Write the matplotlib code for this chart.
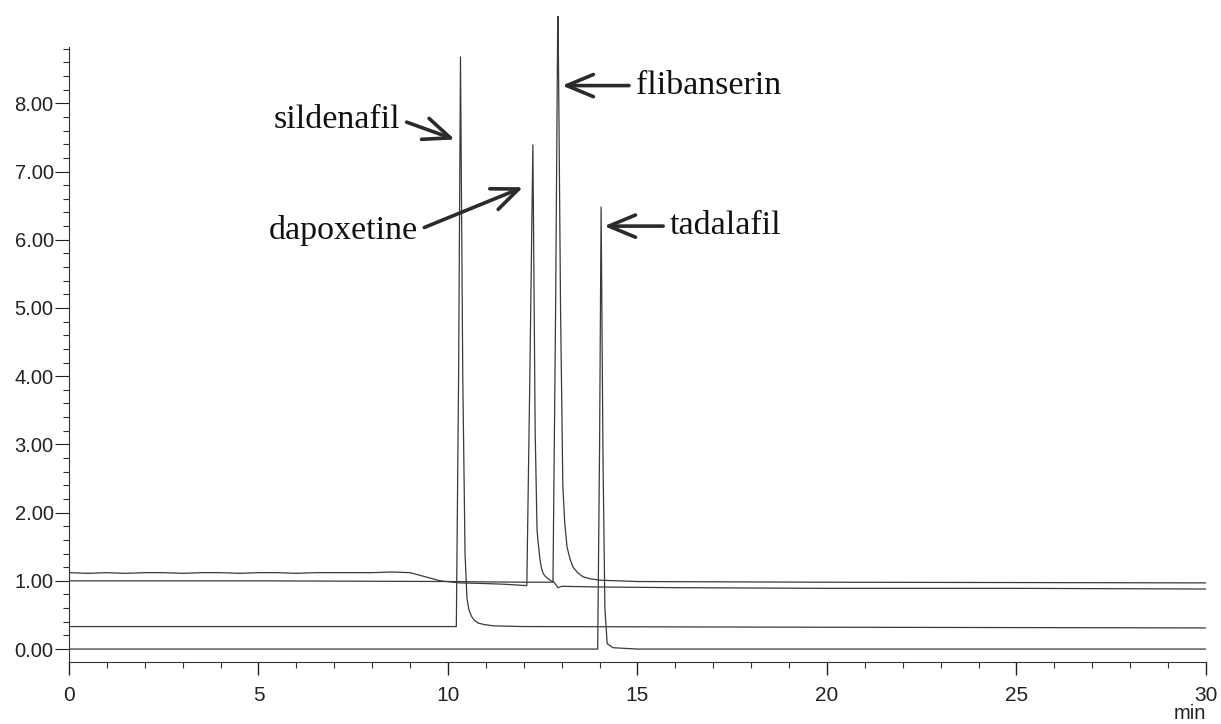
import matplotlib
matplotlib.use('Agg')
import matplotlib.pyplot as plt
from matplotlib.ticker import MultipleLocator, FixedLocator, FormatStrFormatter

# Chromatogram traces (time in min, response)
sild_t = [0, 5, 10.22, 10.28, 10.33, 10.39, 10.45, 10.50, 10.55, 10.62, 10.70, 10.80,
          10.95, 11.2, 12, 20, 30]
sild_y = [0.33, 0.33, 0.33, 4.0, 8.68, 4.0, 1.4, 0.75, 0.58, 0.48, 0.42, 0.38,
          0.36, 0.34, 0.33, 0.32, 0.31]

dapo_t = [0, 0.5, 1.0, 1.5, 2.0, 2.5, 3.0, 3.5, 4.0, 4.5, 5.0, 5.5, 6.0, 6.5, 7.0, 7.5,
          8.0, 8.5, 9.0, 9.4, 9.8, 10.3, 11.0, 11.5, 12.08, 12.16, 12.24, 12.30, 12.35,
          12.39, 12.43, 12.47, 12.51, 12.56, 12.62, 12.69, 12.80, 12.90, 13.0, 14, 16,
          20, 25, 30]
dapo_y = [1.12, 1.11, 1.12, 1.11, 1.12, 1.12, 1.11, 1.12, 1.12, 1.11, 1.12, 1.12, 1.11,
          1.12, 1.12, 1.12, 1.12, 1.13, 1.12, 1.06, 1.00, 0.97, 0.96, 0.95, 0.93, 4.0,
          7.39, 3.2, 1.74, 1.50, 1.30, 1.18, 1.11, 1.07, 1.04, 1.01, 0.98, 0.90, 0.92,
          0.91, 0.90, 0.89, 0.89, 0.88]

flib_t = [0, 5, 10, 12.0, 12.77, 12.84, 12.90, 12.97, 13.03, 13.08, 13.14, 13.22,
          13.30, 13.42, 13.56, 13.75, 14.0, 15, 20, 30]
flib_y = [1.00, 1.00, 0.99, 0.98, 0.98, 5.0, 9.6, 5.0, 2.4, 1.85, 1.50, 1.32,
          1.20, 1.12, 1.06, 1.03, 1.01, 0.99, 0.98, 0.97]

tada_t = [0, 10, 13.95, 14.00, 14.04, 14.09, 14.14, 14.20, 14.35, 15, 30]
tada_y = [0.00, 0.00, 0.00, 3.0, 6.48, 2.8, 0.6, 0.08, 0.02, 0.0, 0.0]

# peak labels: (name, text x, text y, arrow tip x, arrow tip y, alignment)
labels = [
    ('sildenafil', 8.73, 7.76, 10.18, 7.47, 'right'),
    ('dapoxetine', 9.2, 6.14, 11.98, 6.77, 'right'),
    ('flibanserin', 14.96, 8.26, 13.01, 8.26, 'left'),
    ('tadalafil', 15.86, 6.20, 14.12, 6.20, 'left'),
]

fig = plt.figure(figsize=(12.21, 7.24), dpi=100)
ax = fig.add_axes([0.0565, 0.0856, 0.9312, 0.8923])

line_color = '#3a3a3a'
for t, y in [(dapo_t, dapo_y), (flib_t, flib_y), (sild_t, sild_y), (tada_t, tada_y)]:
    ax.plot(t, y, color=line_color, lw=0.9)

ax.set_xlim(0, 30)
ax.set_ylim(-0.19, 9.28)

ax.spines['top'].set_visible(False)
ax.spines['right'].set_visible(False)
ax.spines['left'].set_bounds(-0.19, 8.82)
ax.spines['left'].set_color('#333333')
ax.spines['bottom'].set_color('#333333')

ax.xaxis.set_major_locator(MultipleLocator(5))
ax.xaxis.set_minor_locator(MultipleLocator(1))
ax.set_yticks([0, 1, 2, 3, 4, 5, 6, 7, 8])
ax.yaxis.set_minor_locator(FixedLocator([i * 0.2 for i in range(0, 45)]))
ax.yaxis.set_major_formatter(FormatStrFormatter('%.2f'))

ax.tick_params(axis='x', which='major', length=9, width=1, pad=8, labelsize=15, colors='#222222')
ax.tick_params(axis='x', which='minor', length=4, width=0.8, colors='#333333')
ax.tick_params(axis='y', which='major', length=10, width=0.8, pad=1, labelsize=14.5, colors='#222222')
ax.tick_params(axis='y', which='minor', length=4, width=0.8, colors='#333333')
for lab in ax.get_xticklabels() + ax.get_yticklabels():
    lab.set_fontfamily('Liberation Sans')

ax.text(30, -0.95, 'min', ha='right', va='center', fontsize=14.5,
        family='Liberation Sans', color='#222222', clip_on=False)

for name, tx, ty, ax_x, ax_y, ha in labels:
    rel = (1, 0.5) if ha == 'right' else (0, 0.5)
    ax.annotate(name, xy=(ax_x, ax_y), xytext=(tx, ty), ha=ha, va='center',
                fontsize=24.5, family='Liberation Serif', color='#111111',
                arrowprops=dict(arrowstyle='->,head_length=1.2,head_width=0.5',
                                mutation_scale=16, lw=2.6, color='#2b2b2b',
                                relpos=rel, shrinkA=3, shrinkB=0))

fig.savefig('out.png', dpi=100)
